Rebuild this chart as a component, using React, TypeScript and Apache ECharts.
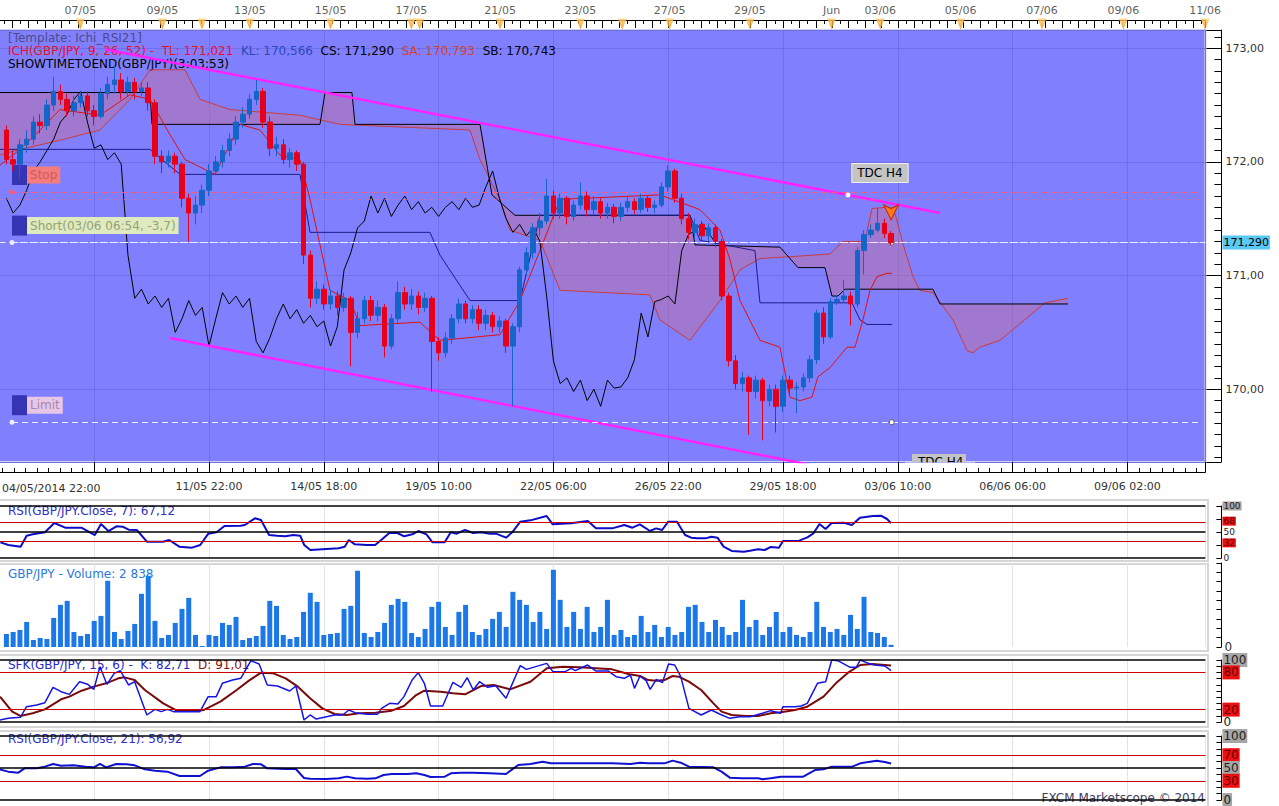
import React, { useEffect, useRef } from "react";
import * as echarts from "echarts";

const FONT = "DejaVu Sans";

// ---- H4 candles GBP/JPY, bar 0 = 04/05/2014 22:00 ----
const opens = [
  172.28, 172.02, 171.98, 172.15, 172.2, 172.35, 172.32, 172.5, 172.62, 172.55,
  172.45, 172.52, 172.58, 172.45, 172.4, 172.6, 172.68, 172.72, 172.62, 172.7,
  172.62, 172.65, 172.52, 172.05, 172.0, 172.05, 171.98, 171.68, 171.55, 171.62,
  171.75, 171.92, 172.0, 172.1, 172.2, 172.35, 172.42, 172.55, 172.62, 172.35,
  172.12, 172.15, 172.02, 172.08, 171.98, 171.18, 170.8, 170.88, 170.75, 170.82,
  170.72, 170.8, 170.5, 170.62, 170.78, 170.65, 170.72, 170.38, 170.62, 170.85,
  170.75, 170.82, 170.72, 170.8, 170.42, 170.32, 170.45, 170.62, 170.75, 170.62,
  170.7, 170.58, 170.65, 170.55, 170.6, 170.38, 170.55, 171.05, 171.2, 171.42,
  171.48, 171.7, 171.55, 171.68, 171.52, 171.62, 171.7, 171.58, 171.65, 171.55,
  171.6, 171.52, 171.6, 171.65, 171.58, 171.68, 171.6, 171.62, 171.78, 171.92,
  171.68, 171.5, 171.38, 171.45, 171.35, 171.42, 171.3, 170.82, 170.25, 170.05,
  170.1, 169.98, 170.08, 169.9, 170.0, 169.85, 170.08, 170.01, 170.02, 170.1,
  170.26, 170.67, 170.46, 170.77, 170.79, 170.82, 170.75, 171.22, 171.36, 171.4,
  171.46, 171.37,
];
const closes = [
  172.02, 171.98, 172.15, 172.2, 172.35, 172.32, 172.5, 172.62, 172.55, 172.45,
  172.52, 172.58, 172.45, 172.4, 172.6, 172.68, 172.72, 172.62, 172.7, 172.62,
  172.65, 172.52, 172.05, 172.0, 172.05, 171.98, 171.68, 171.55, 171.62, 171.75,
  171.92, 172.0, 172.1, 172.2, 172.35, 172.42, 172.55, 172.62, 172.35, 172.12,
  172.15, 172.02, 172.08, 171.98, 171.18, 170.8, 170.88, 170.75, 170.82, 170.72,
  170.8, 170.5, 170.62, 170.78, 170.65, 170.72, 170.38, 170.62, 170.85, 170.75,
  170.82, 170.72, 170.8, 170.42, 170.32, 170.45, 170.62, 170.75, 170.62, 170.7,
  170.58, 170.65, 170.55, 170.6, 170.38, 170.55, 171.05, 171.2, 171.42, 171.48,
  171.7, 171.55, 171.68, 171.52, 171.62, 171.7, 171.58, 171.65, 171.55, 171.6,
  171.52, 171.6, 171.65, 171.58, 171.68, 171.6, 171.62, 171.78, 171.92, 171.68,
  171.5, 171.38, 171.45, 171.35, 171.42, 171.3, 170.82, 170.25, 170.05, 170.1,
  169.98, 170.08, 169.9, 170.0, 169.85, 170.08, 170.01, 170.02, 170.1, 170.26,
  170.67, 170.46, 170.77, 170.79, 170.82, 170.75, 171.22, 171.36, 171.4, 171.46,
  171.37, 171.29,
];
const lows = [
  171.98, 171.92, 171.85, 172.08, 172.15, 172.25, 172.28, 172.45, 172.5, 172.4,
  172.4, 172.48, 172.4, 172.32, 172.38, 172.55, 172.6, 172.55, 172.58, 172.55,
  172.58, 172.45, 171.98, 171.9, 171.95, 171.9, 171.6, 171.3, 171.45, 171.55,
  171.7, 171.88, 171.95, 172.05, 172.15, 172.3, 172.38, 172.5, 172.3, 172.05,
  172.05, 171.98, 171.95, 171.92, 171.1, 170.72, 170.75, 170.7, 170.7, 170.65,
  170.68, 170.2, 170.45, 170.58, 170.6, 170.6, 170.28, 170.35, 170.58, 170.7,
  170.7, 170.66, 170.68, 169.98, 170.25, 170.28, 170.4, 170.58, 170.58, 170.58,
  170.52, 170.52, 170.5, 170.5, 170.32, 169.85, 170.5, 171.0, 171.15, 171.35,
  171.45, 171.5, 171.5, 171.45, 171.48, 171.58, 171.52, 171.54, 171.5, 171.5,
  171.46, 171.48, 171.56, 171.54, 171.55, 171.56, 171.55, 171.6, 171.74, 171.64,
  171.45, 171.32, 171.34, 171.3, 171.3, 171.25, 170.78, 170.2, 170.0, 169.98,
  169.6, 169.92, 169.55, 169.85, 169.62, 169.8, 169.95, 169.79, 169.98, 170.06,
  170.22, 170.4, 170.44, 170.74, 170.76, 170.56, 170.72, 171.01, 171.33, 171.38,
  171.33, 171.27,
];
const highs = [
  172.32, 172.1, 172.2, 172.28, 172.4, 172.42, 172.55, 172.75, 172.68, 172.6,
  172.58, 172.62, 172.62, 172.5, 172.65, 172.75, 172.85, 172.78, 172.75, 172.74,
  172.7, 172.7, 172.55, 172.1, 172.1, 172.08, 172.0, 171.72, 171.7, 171.8,
  171.98, 172.05, 172.15, 172.25, 172.4, 172.48, 172.6, 172.72, 172.65, 172.4,
  172.22, 172.2, 172.12, 172.1, 172.0, 171.22, 170.95, 170.92, 170.88, 170.86,
  170.85, 170.82, 170.68, 170.82, 170.82, 170.78, 170.75, 170.66, 170.95, 170.9,
  170.88, 170.86, 170.85, 170.82, 170.46, 170.5, 170.66, 170.8, 170.78, 170.74,
  170.74, 170.7, 170.68, 170.64, 170.62, 170.58, 171.08, 171.25, 171.46, 171.55,
  171.85, 171.75, 171.72, 171.7, 171.66, 171.82, 171.74, 171.7, 171.68, 171.64,
  171.63, 171.64, 171.7, 171.68, 171.72, 171.7, 171.66, 171.82, 171.97, 171.94,
  171.72, 171.55, 171.5, 171.48, 171.46, 171.45, 171.32, 170.85, 170.3, 170.15,
  170.12, 170.12, 170.1, 170.04, 170.04, 170.12, 170.12, 170.06, 170.14, 170.3,
  170.7, 170.72, 170.8, 170.83, 170.96, 170.86, 171.25, 171.4, 171.45, 171.59,
  171.5, 171.39,
];
const volumes = [
  16770, 19350, 21930, 32250, 9030, 11610, 10320, 37410, 54180, 59340,
  19350, 14190, 16770, 33540, 39990, 85140, 19350, 10320, 20640, 29670,
  68370, 91590, 33540, 11610, 15480, 30960, 49020, 63210, 15480, 1290,
  15480, 14190, 30960, 28380, 38700, 9030, 11610, 14190, 27090, 59340,
  52890, 15480, 10320, 12900, 45150, 69660, 58050, 15480, 16770, 18060,
  49020, 52890, 98040, 18060, 12900, 19350, 30960, 54180, 61920,
  58050, 18060, 12900, 23220, 51600, 58050, 25800, 15480, 45150, 54180,
  19350, 15480, 23220, 36120, 45150, 25800, 70950, 60630, 54180, 32250,
  45150, 23220, 99330, 60630, 25800, 45150, 23220, 51600, 19350, 25800,
  60630, 15480, 21930, 12900, 15480, 39990, 19350, 28380, 12900, 25800,
  15480, 19350, 51600, 54180, 32250, 19350, 34830, 25800, 15480, 19350,
  60630, 25800, 34830, 15480, 25800, 45150, 19350, 25800, 15480, 12900,
  19350, 58050, 25800, 19350, 23220, 15480, 41280, 23220, 64500, 19350,
  18060, 12900, 2838,
];

// ---- Ichimoku lines as [bar, price] vertices ----
const tenkan = [
  [-0.95, 171.97], [2.01, 172.11], [4.97, 172.28], [7.93, 172.46], [13.86, 172.41], [18.3, 172.59],
  [21.26, 172.55], [24.22, 172.24], [26.45, 172.02], [30.89, 171.89], [34.59, 172.33], [37.55, 172.28],
  [40.51, 172.06], [43.47, 172.02], [44.96, 171.67], [47.92, 170.87], [50.88, 170.78], [52.36, 170.56],
  [61.24, 170.59], [64.2, 170.43], [73.09, 170.48], [76.05, 170.78], [79.01, 171.22], [81.98, 171.67],
  [96.78, 171.71], [102.7, 171.58], [105.67, 171.4], [107.15, 171.14], [108.63, 170.78], [111.59, 170.43],
  [114.55, 170.37], [116.03, 169.93], [117.52, 169.9], [119.29, 169.93], [120.18, 170.11], [121.96, 170.19],
  [124.48, 170.37], [125.66, 170.37], [126.84, 170.61], [127.88, 170.87], [128.92, 170.99], [130.4, 171.02],
  [131.14, 171.02],
];
const kijun = [
  [-0.95, 172.11], [21.26, 172.11], [25.7, 171.89], [43.47, 171.89], [44.96, 171.38], [62.72, 171.38],
  [64.2, 171.18], [68.65, 170.78], [76.05, 170.78], [79.01, 171.53], [101.23, 171.53], [102.71, 171.31],
  [110.85, 171.22], [111.59, 170.76], [125.22, 170.76], [126.4, 170.61], [127.44, 170.57], [131.14, 170.57],
];
const senkouA = [
  [-0.95, 172.06], [2.01, 172.11], [7.93, 172.19], [13.86, 172.28], [18.3, 172.55], [21.26, 172.81],
  [26.45, 172.81], [28.67, 172.55], [33.11, 172.46], [43.47, 172.41], [49.4, 172.33], [68.65, 172.28],
  [70.13, 172.02], [73.09, 171.67], [74.57, 171.4], [79.01, 171.31], [81.98, 170.87], [95.3, 170.83],
  [96.78, 170.61], [101.23, 170.43], [105.67, 170.78], [108.63, 171.05], [111.59, 171.15], [114.55, 171.16],
  [121.96, 171.19], [123.88, 171.3], [127.14, 171.3], [127.58, 171.43], [128.18, 171.59], [130.4, 171.6],
  [131.58, 171.55], [132.32, 171.38], [133.07, 171.22], [134.25, 170.99], [135.28, 170.87], [137.21, 170.85],
  [140.17, 170.61], [142.25, 170.34], [143.13, 170.32], [144.17, 170.37], [147.13, 170.43], [151.58, 170.65],
  [153.8, 170.76], [157.2, 170.8],
];
const senkouB = [
  [-0.95, 172.61], [21.26, 172.61], [21.56, 172.33], [46.44, 172.33], [47.18, 172.61], [51.17, 172.61],
  [51.62, 172.33], [70.13, 172.33], [71.9, 171.71], [75.31, 171.53], [101.23, 171.53], [101.97, 171.27],
  [114.55, 171.25], [117.22, 171.07], [121.22, 171.07], [122.25, 170.82], [123.14, 170.82], [124.18, 170.88],
  [137.2, 170.88], [138.25, 170.75], [157.2, 170.75],
];
const CHIKOU_SHIFT = 26;

// ---- channel lines (TDC) ----
const channelUpper = [[14.6, 172.99], [138.25, 171.55]];
const channelLower = [[24.2, 170.45], [122.0, 169.3]];
const tdcPoint = [124.62, 171.709];

// ---- trade levels ----
const stopLevel = 171.735;
const stopLevel2 = 171.67;
const entryLevel = 171.29;
const limitLevel = 169.71;
const levelStartBar = 0.83;
const levelEndBar = 176.7;
const signalBar = 131;
const signalPrice = 171.49;

// ---- indicators as [bar, value] vertices ----
const rsi7 = [
  [-0.9, 30], [0.3, 25], [2.1, 21.8], [3, 42.9], [3.9, 45.5], [5.7, 49.4], [7.1, 67.3], [8.7, 58.3], [11.1, 58.3],
  [13.1, 44.2], [14, 65.4], [15.1, 51.9], [16.3, 60.9], [17.2, 60.3], [18.1, 54.5], [19.3, 54], [20.8, 31.4],
  [23.2, 31.4], [24.1, 34.6], [25.6, 21.8], [27.5, 19.9], [28.7, 25], [29.9, 46.8], [31.1, 49.4], [32.3, 61.5],
  [34.7, 62], [35.3, 63.5], [36.8, 76.3], [37.7, 73.1], [38.9, 44.2], [40.1, 42.9], [41.3, 41.7], [42.5, 44.2],
  [43.5, 42.9], [44.1, 25], [45, 15.4], [47.4, 17.3], [49.2, 18.6], [50.1, 21.8], [50.7, 34.6], [51.6, 26.3],
  [53.4, 25], [54.6, 25], [55.5, 34.6], [56.7, 48.1], [57.9, 48.1], [58.9, 41.7], [60.1, 45.5], [61, 51.9],
  [62.2, 45.5], [63.1, 30.1], [64.9, 30.1], [65.8, 49.4], [66.7, 46.8], [67.9, 54], [69.1, 48.1], [70.3, 49.4],
  [71.6, 46.8], [72.5, 46.8], [74, 39.1], [74.9, 49.4], [76.1, 69.9], [77.6, 72.4], [80, 80.8], [80.9, 64.7],
  [83.6, 66.7], [86.1, 71.2], [87.3, 57], [89.7, 57], [91.5, 63.5], [92.7, 58.3], [93.8, 64.7], [95.3, 51.9],
  [96.2, 57], [97.1, 53.8], [98, 69.9], [99.3, 69.9], [100.5, 44.2], [101.4, 39.1], [102.3, 37.8], [103.5, 37.8],
  [104.4, 41], [105.3, 39.1], [106.2, 21.8], [107.4, 13.5], [109.2, 12.2], [110.1, 14.1], [111.3, 16.7],
  [112.3, 15.4], [113.2, 21.2], [114.4, 19.9], [115, 32.7], [117.4, 33.3], [118.6, 39.7], [119.5, 47.4],
  [120.4, 65.4], [121.3, 55.8], [122.2, 67.3], [124, 67.9], [125.2, 63.5], [126.4, 77.6], [128.3, 80.8],
  [129.5, 81.4], [130.4, 75], [131, 67.12],
];
const stochK = [
  [-0.95, 3.2], [0.26, 5.9], [2.07, 7.5], [2.98, 24.7], [4.49, 27.4], [5.7, 31.2], [6.9, 55.9], [8.1, 48.9],
  [9.32, 44.6], [10.83, 65], [12.04, 60.8], [12.95, 52.7], [13.85, 89.2], [14.88, 60.8], [15.97, 78.5],
  [16.87, 82.8], [18.08, 59.7], [18.99, 65], [20.8, 11.3], [22.01, 20.4], [22.92, 16.7], [23.82, 20.4],
  [24.73, 16.7], [28.66, 16.7], [29.87, 40.9], [31.07, 40.9], [31.98, 62.4], [33.49, 67.7], [34.7, 70.4],
  [36.21, 98.9], [37.42, 93.5], [38.63, 59.7], [40.14, 58.1], [41.95, 50], [42.86, 58.1], [44.07, 3.2],
  [44.97, 11.3], [45.88, 4.8], [47.39, 8.6], [48.6, 11.3], [49.8, 11.3], [50.71, 19.4], [51.62, 15.1],
  [53.43, 12.4], [54.94, 12.4], [55.55, 22], [56.75, 30.1], [57.96, 29], [58.87, 40.9], [60.08, 67.7],
  [60.98, 79.6], [61.89, 62.4], [62.8, 25.8], [64.61, 25.8], [66.12, 64], [67.33, 55.9], [68.23, 71.5],
  [69.14, 51.6], [70.05, 65], [71.26, 55.9], [72.46, 58.6], [73.98, 38.2], [76.09, 90.9], [77, 84.9],
  [80.02, 94.6], [80.92, 81.2], [82.74, 81.2], [83.64, 86.6], [84.25, 82.8], [86.06, 91.9], [87.27, 82.3],
  [89.08, 82.3], [90.29, 73.1], [91.5, 70.4], [92.4, 75.8], [93.01, 54.3], [93.82, 74.2], [94.73, 66.7],
  [95.33, 52.7], [96.24, 68.8], [97.14, 63.4], [98.05, 93.5], [98.96, 91.9], [99.86, 73.1], [101.07, 22],
  [102.88, 11.3], [104.39, 19.4], [105.6, 12.9], [107.11, 5.9], [108.62, 8.6], [110.13, 8.6], [111.95, 14],
  [113.16, 18.3], [114.67, 14], [114.97, 24.7], [116.78, 24.7], [117.69, 25.8], [118.59, 30.1], [120.1, 62.4],
  [121.31, 65], [122.22, 100], [123.12, 98.9], [124.94, 88.2], [125.84, 88.2], [126.45, 100], [127.66, 94.6],
  [128.56, 91.9], [130.07, 90.3], [131, 82.71],
];
const stochD = [
  [-0.95, 40.9], [0.86, 16.7], [2.07, 9.7], [3.88, 14], [5.7, 20.4], [8.1, 36.6], [9.32, 40.9], [11.13, 50.5],
  [12.95, 57], [14.76, 62.4], [16.57, 70.4], [17.48, 72], [18.99, 67.7], [20.5, 51.6], [23.22, 30.1],
  [25.03, 19.4], [27.45, 17.7], [29.26, 19.4], [31.68, 32.8], [34.1, 51.6], [35.91, 66.7], [37.72, 79.6],
  [39.53, 78.5], [41.35, 70.4], [43.16, 57], [44.97, 38.2], [46.78, 22], [48.6, 12.9], [50.41, 11.3],
  [52.22, 14], [54.64, 15.1], [57.06, 18.3], [58.87, 25.8], [60.68, 43.5], [61.89, 50.5], [64.31, 48.9],
  [66.12, 46.2], [67.93, 44.6], [70.35, 58.1], [72.16, 59.7], [74.58, 52.7], [77.6, 65], [80.02, 86.6],
  [82.43, 89.2], [84.85, 88.2], [87.27, 86.6], [89.68, 84.9], [92.1, 77.4], [93.82, 74.2], [95.03, 67.7],
  [96.24, 66.7], [97.45, 67.7], [98.65, 74.2], [99.56, 73.1], [101.07, 65], [102.88, 51.6], [104.7, 30.1],
  [105.9, 16.7], [107.41, 11.3], [109.53, 9.7], [111.34, 9.7], [113.16, 14], [114.67, 15.6], [116.78, 19.4],
  [118.59, 24.7], [121, 40.9], [122.82, 62.4], [124.63, 79.6], [126.45, 91.9], [128.26, 93.5], [130.07, 91.9],
  [131, 91.01],
];
const rsi21 = [
  [-0.95, 47.9], [0.26, 44.3], [1.77, 42.7], [2.68, 49.5], [4.49, 49.5], [5.7, 52.1], [6.9, 56.3], [8.1, 53.6],
  [9.93, 54.2], [11.74, 52.1], [12.95, 51], [13.85, 56.3], [14.76, 51], [16.27, 56.3], [17.78, 55.7],
  [18.99, 54.2], [20.5, 47.9], [22.01, 45.8], [23.82, 44.3], [25.64, 37.5], [28.66, 37.5], [29.87, 45.8],
  [31.68, 51], [33.49, 51], [35.3, 52.1], [36.51, 56.3], [37.72, 55.7], [38.63, 49.5], [41.35, 48.4],
  [42.86, 48.4], [44.07, 34.4], [44.97, 33.3], [47.39, 32.8], [49.2, 33.9], [50.41, 36.5], [51.62, 33.9],
  [53.43, 33.3], [54.64, 33.9], [55.85, 39.1], [57.06, 40.6], [59.47, 40.6], [60.68, 41.7], [61.89, 39.1],
  [62.8, 35.9], [64.91, 36.5], [65.82, 41.7], [67.33, 42.7], [69.14, 42.7], [71.56, 41.7], [73.98, 40.6],
  [75.79, 54.7], [77.6, 56.3], [79.41, 59.9], [80.62, 57.3], [89.68, 57.3], [92.4, 56.3], [93.82, 58.3],
  [95.03, 57.3], [97.45, 57.3], [98.65, 61.5], [99.86, 58.3], [101.07, 52.1], [104.7, 51], [105.9, 44.3],
  [107.11, 34.9], [108.93, 33.9], [111.34, 33.9], [111.95, 32.3], [113.16, 33.9], [114.67, 36.5],
  [117.99, 36.5], [119.8, 46.9], [121, 47.9], [122.22, 52.1], [125.24, 52.1], [126.45, 57.3], [128.86, 61.5],
  [130.07, 59.4], [131, 56.92],
];

// ---- axis labels ----
const bottomTickBars = [30, 47, 64, 81, 98, 115, 132, 149, 166];
const bottomTickLabels = ["11/05 22:00", "14/05 18:00", "19/05 10:00", "22/05 06:00", "26/05 22:00", "29/05 18:00", "03/06 10:00", "06/06 06:00", "09/06 02:00"];
const firstBottomLabel = "04/05/2014 22:00";
const dayBars = [10.96, 23.1, 36.04, 48.0, 59.97, 73.1, 85.0, 98.2, 110.1, 122.2, 129.4, 141.3, 153.35, 165.4, 177.5];
const dayLabels = ["07/05", "09/05", "13/05", "15/05", "17/05", "21/05", "23/05", "27/05", "29/05", "Jun", "03/06", "05/06", "07/06", "09/06", "11/06"];
const extraMarkerBars = [28.96, 61.2, 91.2];

const rsi7Levels = [100, 68, 50, 32, 0];
const stochLevels = [100, 80, 20, 0];
const rsi21Levels = [100, 70, 50, 30, 0];

const GL = -20.6;
const GW = 1226;
const XMIN = -4;
const XMAX = 177.55;

function buildOption() {
  const fmtPrice = (v: number) => v.toFixed(2).replace(".", ",");
  const isInt = (v: number) => Math.abs(v - Math.round(v)) < 1e-6;

  const lvl = (v: number, kind: "black" | "red", bg: string | null, fs: number, lh: number, dy: number) => ({
    yAxis: v,
    lineStyle: { color: kind === "black" ? "#000" : "#cc0000", width: kind === "black" ? 1.5 : 1, type: "solid" },
    label: {
      show: true, position: "end", distance: 17, formatter: String(v), offset: [0, dy],
      color: bg === "#ee1010" ? "#5a0000" : "#222", backgroundColor: bg || "transparent",
      padding: [0, 1, 0, 1], fontFamily: FONT, fontSize: fs, lineHeight: lh,
    },
  });
  const levelMark = (levels: number[], reds: number[], grays: number[], fs = 12, lh = 14, shifts: Record<number, number> = {}) => ({
    silent: true, symbol: ["none", "none"], animation: false,
    data: levels.map((v) => lvl(v, reds.includes(v) ? "red" : "black", reds.includes(v) ? "#ee1010" : grays.includes(v) ? "#a6a6a6" : null, fs, lh, shifts[v] || 0)),
  });

  const grid = (top: number, height: number, extra: any = {}) => ({
    left: GL, width: GW, top, height, outerBoundsMode: "none", containLabel: false, ...extra,
  });
  const subX = (gi: number) => ({
    type: "value", gridIndex: gi, min: XMIN, max: XMAX, interval: 17,
    axisLine: { show: false }, axisTick: { show: false }, axisLabel: { show: false },
    splitLine: { show: true, lineStyle: { color: "#e3e3e3", width: 1 } },
  });
  const subY = (gi: number, max: number, interval: number, labels: boolean) => ({
    type: "value", gridIndex: gi, position: "right", offset: 16, min: 0, max, interval,
    axisLine: { show: true, onZero: false, lineStyle: { color: "#000", width: 1 } },
    axisTick: { show: true, inside: true, length: 5, lineStyle: { color: "#000" } },
    axisLabel: labels
      ? { show: true, margin: 3, fontFamily: FONT, fontSize: 12, color: "#333", formatter: (v: number) => (v === 0 ? "0" : "") }
      : { show: false },
    splitLine: { show: false },
  });
  const line = (data: number[][], color: string, width: number, z: number, xi = 0, yi = 0, extra: any = {}) => ({
    type: "line", xAxisIndex: xi, yAxisIndex: yi, data, symbol: "none", silent: true, z,
    lineStyle: { color, width }, ...extra,
  });

  const levelLabel = (text: string, bg: string, fg: string) => ({
    show: true, position: "insideStartTop", distance: 6, offset: [-6, -1],
    formatter: "{sq|}{t|" + text + "}",
    rich: {
      sq: { width: 15, height: 20, backgroundColor: "#3434b4" },
      t: { backgroundColor: bg, color: fg, fontFamily: FONT, fontSize: 12, height: 17, lineHeight: 17, padding: [0, 3] },
    },
  });

  const chikou = closes.slice(CHIKOU_SHIFT).map((c, k) => [k, c]);

  return {
    animation: false,
    backgroundColor: "#ffffff",
    grid: [
      grid(30, 432, { show: true, backgroundColor: "#8080ff", borderColor: "#d2d2ea", borderWidth: 2 }),
      grid(0, 20),
      grid(506, 52),
      grid(563, 84),
      grid(660, 62),
      grid(736, 64),
    ],
    xAxis: [
      {
        type: "value", gridIndex: 0, min: XMIN, max: XMAX, interval: 17, position: "bottom", offset: 10,
        axisLine: { show: true, onZero: false, lineStyle: { color: "#000", width: 1 } },
        axisTick: { show: true, inside: true, length: 10, lineStyle: { color: "#000" } },
        minorTick: { show: true, splitNumber: 10, length: 4, lineStyle: { color: "#000" } },
        axisLabel: {
          show: true, margin: 9, fontFamily: FONT, fontSize: 11, color: "#333",
          formatter: (v: number) => {
            if (!isInt(v)) return "";
            const i = bottomTickBars.indexOf(Math.round(v));
            return i >= 0 ? bottomTickLabels[i] : "";
          },
        },
        splitLine: { show: true, lineStyle: { color: "#6f6fea", width: 1 } },
      },
      {
        type: "value", gridIndex: 1, min: XMIN, max: XMAX, interval: 17 / 7, position: "bottom",
        axisLine: { show: true, onZero: false, lineStyle: { color: "#000", width: 1 } },
        axisTick: { show: true, inside: false, length: 8, lineStyle: { color: "#000" } },
        minorTick: { show: true, splitNumber: 2, length: 4, lineStyle: { color: "#000" } },
        axisLabel: { show: false }, splitLine: { show: false },
      },
      subX(2), subX(3), subX(4), subX(5),
    ],
    yAxis: [
      {
        type: "value", gridIndex: 0, position: "right", offset: 16, min: 169.36, max: 173.16, splitNumber: 4,
        axisLine: { show: true, onZero: false, lineStyle: { color: "#000", width: 1 } },
        axisTick: { show: true, inside: true, length: 15, lineStyle: { color: "#000" } },
        minorTick: { show: true, splitNumber: 10, length: 7, lineStyle: { color: "#000" } },
        axisLabel: { margin: 4, fontFamily: FONT, fontSize: 11, color: "#333", formatter: (v: number) => (isInt(v) ? fmtPrice(v) : "") },
        splitLine: { show: true, lineStyle: { color: "#6f6fea", width: 1 } },
      },
      { type: "value", gridIndex: 1, min: 0, max: 20, show: false },
      subY(2, 100, 25, false),
      subY(3, 108000, 12000, true),
      subY(4, 100, 10, false),
      subY(5, 100, 10, false),
    ],
    graphic: [
      { type: "rect", z: 0, shape: { x: -2, y: 500, width: 1210, height: 61 }, style: { fill: "none", stroke: "#d6d6d6", lineWidth: 2 } },
      { type: "rect", z: 0, shape: { x: -2, y: 564, width: 1210, height: 87 }, style: { fill: "none", stroke: "#d6d6d6", lineWidth: 2 } },
      { type: "rect", z: 0, shape: { x: -2, y: 655, width: 1210, height: 72 }, style: { fill: "none", stroke: "#d6d6d6", lineWidth: 2 } },
      { type: "rect", z: 0, shape: { x: -2, y: 731, width: 1210, height: 77 }, style: { fill: "none", stroke: "#d6d6d6", lineWidth: 2 } },
      { type: "text", z: 1, x: 8, y: 38, style: { text: "[Template: Ichi_RSI21]", fill: "#4b4b8a", font: `12px "${FONT}"`, verticalAlign: "middle" } },
      {
        type: "text", z: 1, x: 8, y: 51,
        style: {
          text: "{r|ICH(GBP/JPY, 9, 26, 52) -  TL: 171,021}  {b|KL: 170,566}  {k|CS: 171,290}  {o|SA: 170,793}  {k|SB: 170,743}",
          font: `12px "${FONT}"`, verticalAlign: "middle",
          rich: {
            r: { fill: "#e8102c", font: `12px "${FONT}"` },
            b: { fill: "#2c48b4", font: `12px "${FONT}"` },
            k: { fill: "#000000", font: `12px "${FONT}"` },
            o: { fill: "#d4402c", font: `12px "${FONT}"` },
          },
        },
      },
      { type: "text", z: 1, x: 8, y: 64, style: { text: "SHOWTIMETOEND(GBP/JPY)(3:03:53)", fill: "#000", font: `12px "${FONT}"`, verticalAlign: "middle" } },
      { type: "text", z: 1, x: 2, y: 488, style: { text: firstBottomLabel, fill: "#333", font: `11px "${FONT}"`, verticalAlign: "middle" } },
      { type: "text", z: 3, x: 8, y: 511, style: { text: "RSI(GBP/JPY.Close, 7): 67,12", fill: "#3030c8", font: `12px "${FONT}"`, verticalAlign: "middle" } },
      { type: "text", z: 3, x: 8, y: 574, style: { text: "GBP/JPY - Volume: 2 838", fill: "#2a78e0", font: `12px "${FONT}"`, verticalAlign: "middle" } },
      {
        type: "text", z: 3, x: 8, y: 665,
        style: {
          text: "{b|SFK(GBP/JPY, 15, 6) -  K: 82,71}  {r|D: 91,01}", font: `12px "${FONT}"`, verticalAlign: "middle",
          rich: { b: { fill: "#2828c8", font: `12px "${FONT}"` }, r: { fill: "#8b1010", font: `12px "${FONT}"` } },
        },
      },
      { type: "text", z: 3, x: 8, y: 739, style: { text: "RSI(GBP/JPY.Close, 21): 56,92", fill: "#3030c8", font: `12px "${FONT}"`, verticalAlign: "middle" } },
      { type: "text", z: 3, x: 1205, y: 798, style: { text: "FXCM Marketscope © 2014", fill: "#3c3c60", font: `12px "${FONT}"`, align: "right", verticalAlign: "middle" } },
      { type: "rect", z: 6, shape: { x: 912, y: 454, width: 54, height: 8 }, style: { fill: "#c4c4c4" } },
      { type: "text", z: 6, x: 918, y: 456, style: { text: "TDC H4", fill: "#000", font: `12px "${FONT}"`, verticalAlign: "top" } },
      { type: "rect", z: 7, shape: { x: 905, y: 462.5, width: 70, height: 5 }, style: { fill: "#ffffff" } },
    ],
    series: [
      {
        type: "custom", xAxisIndex: 0, yAxisIndex: 0, z: 2, silent: true, clip: true,
        data: [[0, 171]],
        renderItem: (_p: any, api: any) => {
          const pts = senkouA.map((p) => api.coord(p)).concat(senkouB.slice().reverse().map((p) => api.coord(p)));
          return { type: "polygon", shape: { points: pts }, style: { fill: "rgba(200,110,150,0.45)" } };
        },
      },
      line(senkouA, "#c83c3c", 1, 3),
      line(senkouB, "#000000", 1, 3),
      line(kijun, "#1c1c8c", 1, 3),
      line(tenkan, "#e01010", 1, 3),
      line(chikou, "#000000", 1, 3),
      line(channelUpper, "#ff22ff", 2.5, 4, 0, 0, {
        markPoint: {
          silent: true, animation: false,
          data: [{
            coord: tdcPoint, symbol: "circle", symbolSize: 5, itemStyle: { color: "#ffffff" },
            label: {
              show: true, position: "inside", offset: [32, -22], formatter: "TDC H4", color: "#000",
              backgroundColor: "#c4c4c4", borderColor: "#eeeeee", borderWidth: 1, padding: [3, 5],
              fontFamily: FONT, fontSize: 12,
            },
          }],
        },
      }),
      line(channelLower, "#ff22ff", 2.5, 4),
      {
        type: "candlestick", xAxisIndex: 0, yAxisIndex: 0, z: 5, barWidth: 5,
        data: opens.map((o, i) => [i, o, closes[i], lows[i], highs[i]]),
        itemStyle: { color: "#1565c8", color0: "#e8001a", borderColor: "#1565c8", borderColor0: "#e8001a", borderWidth: 1 },
        markLine: {
          silent: true, symbol: ["none", "none"], animation: false,
          data: [
            { yAxis: stopLevel2, lineStyle: { color: "#e070a0", type: [5, 4], width: 1, opacity: 0.6 }, label: { show: false } },
            [
              { coord: [levelStartBar, stopLevel], symbol: "circle", symbolSize: 5, lineStyle: { color: "#ff5a7a", type: [6, 4], width: 1 }, label: levelLabel("Stop", "#f47c7c", "#d05a5a") },
              { coord: [levelEndBar, stopLevel], symbol: "none" },
            ],
            {
              yAxis: entryLevel, lineStyle: { color: "#ececff", type: [6, 4], width: 1 },
              label: { show: true, position: "end", distance: 17, formatter: "171,290", backgroundColor: "#5ac8f5", color: "#000", padding: [2, 1, 1, 1], fontFamily: FONT, fontSize: 11 },
            },
            [
              { coord: [levelStartBar, entryLevel], symbol: "circle", symbolSize: 5, lineStyle: { color: "#ececff", type: [6, 4], width: 1 }, label: levelLabel("Short(03/06 06:54, -3,7)", "#dfeabf", "#94a276") },
              { coord: [levelEndBar, entryLevel], symbol: "none" },
            ],
            [
              { coord: [levelStartBar, limitLevel], symbol: "circle", symbolSize: 5, lineStyle: { color: "#ececff", type: [6, 4], width: 1 }, label: levelLabel("Limit", "#e8c6e6", "#a686b2") },
              { coord: [levelEndBar, limitLevel], symbol: "none" },
            ],
          ],
        },
        markPoint: {
          silent: true, animation: false, label: { show: false },
          data: [
            { coord: [signalBar, signalPrice], symbol: "arrow", symbolRotate: 180, symbolSize: [11, 15], itemStyle: { color: "#ff7a1a", borderColor: "#d02000", borderWidth: 1 } },
            { coord: [131.1, entryLevel], symbol: "circle", symbolSize: 5, itemStyle: { color: "#ffffff", borderColor: "#555", borderWidth: 1 } },
            { coord: [131.1, limitLevel], symbol: "circle", symbolSize: 5, itemStyle: { color: "#ffffff", borderColor: "#555", borderWidth: 1 } },
          ],
        },
      },
      {
        type: "scatter", xAxisIndex: 1, yAxisIndex: 1, clip: false, silent: true, z: 5,
        symbol: "triangle", symbolRotate: 180, symbolSize: [9, 11],
        itemStyle: {
          color: new echarts.graphic.LinearGradient(0, 0, 0, 1, [{ offset: 0, color: "#f08a00" }, { offset: 1, color: "#ffd070" }]),
        },
        label: { show: true, position: "top", distance: 3, fontFamily: FONT, fontSize: 11, color: "#333", formatter: (p: any) => p.name },
        data: dayBars.map((b, i) => ({ name: dayLabels[i], value: [b, -4] }))
          .concat(extraMarkerBars.map((b) => ({ name: "", value: [b, -4], label: { show: false } } as any))),
      },
      line(rsi7, "#0c0cc8", 2, 3, 2, 2, { markLine: levelMark(rsi7Levels, [68, 32], [100], 9, 9, { 68: -1.5, 32: 1.5 }) }),
      { type: "bar", xAxisIndex: 3, yAxisIndex: 3, barWidth: 5, silent: true, data: volumes.map((v, i) => [i, v]), itemStyle: { color: "#1c78e8" } },
      line(stochD, "#7a0a0a", 2, 3, 4, 4, { markLine: levelMark(stochLevels, [80, 20], [100]) }),
      line(stochK, "#1414e6", 1.5, 4, 4, 4),
      line(rsi21, "#1010d0", 2, 3, 5, 5, { markLine: levelMark(rsi21Levels, [70, 30], [100, 50, 0]) }),
    ],
  };
}

export default function App() {
  const ref = useRef<HTMLDivElement>(null);
  useEffect(() => {
    const chart = echarts.init(ref.current as HTMLDivElement, null, { renderer: "svg" });
    chart.setOption(buildOption() as any);
    return () => chart.dispose();
  }, []);
  return (
    <div
      ref={ref}
      style={{ position: "absolute", left: 0, top: 0, width: 1279, height: 806, background: "#fff" }}
    />
  );
}
